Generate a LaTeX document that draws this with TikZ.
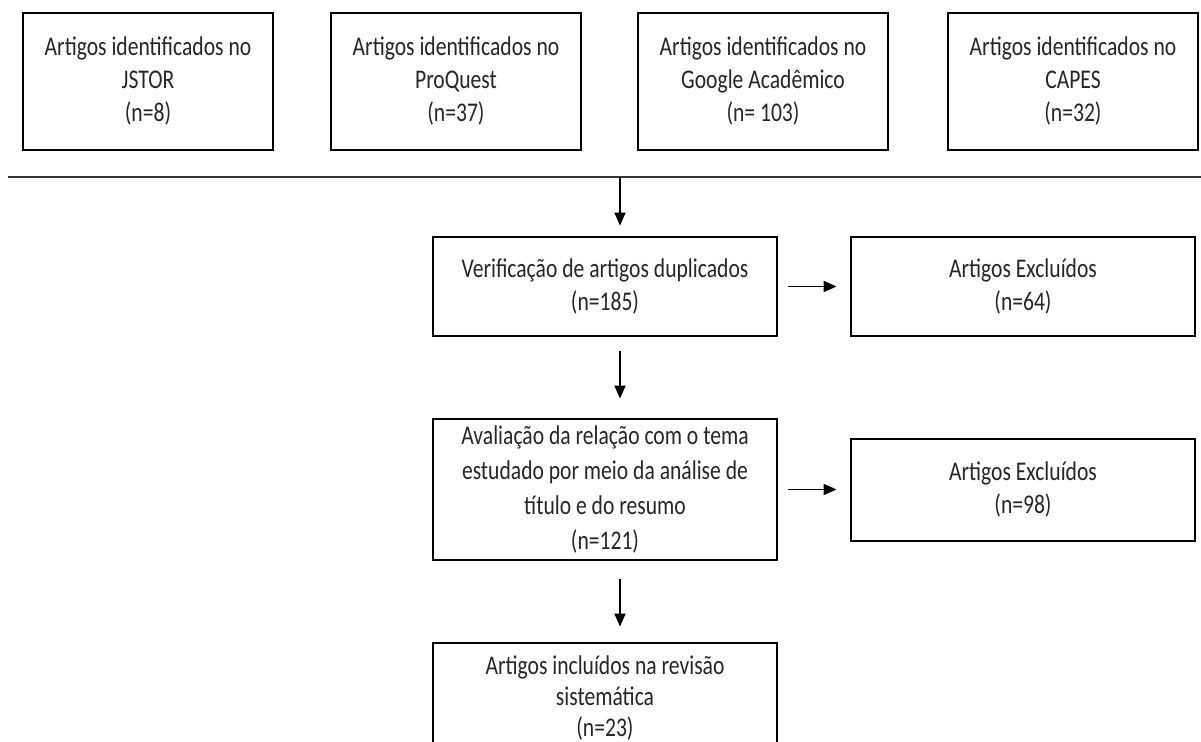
\documentclass[tikz,border=0pt]{standalone}
\usepackage{fontspec}
\setmainfont{Carlito}[FakeStretch=0.8]
\usetikzlibrary{arrows.meta}
\tikzset{
  caixa/.style={draw, line width=1.4pt, rectangle, align=center, inner sep=2pt,
    text=black!85, font=\fontsize{13.5}{16.5}\selectfont},
  base/.style={caixa, minimum width=125pt, minimum height=68.5pt},
  etapa/.style={caixa, minimum width=172pt},
  seta/.style={-{Triangle[length=6.5pt,width=5.5pt]}, line width=0.8pt},
}
\begin{document}
\begin{tikzpicture}[x=0.5pt,y=-0.5pt]
		\useasboundingbox (0,0) rectangle (1201,742);
		\clip (0,0) rectangle (1201,742);
		% Bases de dados pesquisadas
		\node[base] (jstor) at (148,81.5) {Artigos identificados no\\JSTOR\\(n=8)};
		\node[base] (proquest) at (456,81.5) {Artigos identificados no\\ProQuest\\(n=37)};
		\node[base] (google) at (763,81.5) {Artigos identificados no\\Google Acadêmico\\(n= 103)};
		\node[base] (capes) at (1073,81.5) {Artigos identificados no\\CAPES\\(n=32)};
		\draw[line width=0.9pt, black!80] (8,177) -- (1201,177);	% Linha divisória
		\coordinate (divisao) at (620,177);
		% Etapas da triagem
		\node[etapa, minimum height=49.5pt] (verif) at (605,286.5) {Verificação de artigos duplicados\\(n=185)};
		\node[etapa, minimum height=70.5pt, font=\fontsize{13.5}{17.5}\selectfont] (aval) at (605,489.5) {Avaliação da relação com o tema\\estudado por meio da análise de\\título e do resumo\\(n=121)};
		\node[etapa, minimum height=55pt, font=\fontsize{13.5}{15.5}\selectfont] (incl) at (605,698) {Artigos incluídos na revisão\\sistemática\\(n=23)};
		% Artigos excluídos
		\node[etapa, minimum height=49.5pt] (excl1) at (1023,286.5) {Artigos Excluídos\\(n=64)};
		\node[etapa, minimum height=51pt] (excl2) at (1023,490) {Artigos Excluídos\\(n=98)};
		% Setas
		\draw[seta, shorten >=5pt] (divisao) -- (divisao |- verif.north);
		\draw[seta, shorten <=7pt, shorten >=9.5pt] ([xshift=7.5pt]verif.south) -- ([xshift=7.5pt]aval.north);
		\draw[seta, shorten <=9pt, shorten >=7.5pt] ([xshift=7.5pt]aval.south) -- ([xshift=7.5pt]incl.north);
		\draw[seta, shorten <=5pt, shorten >=6.5pt] (verif.east) -- (excl1.west);
		\draw[seta, shorten <=5pt, shorten >=6.5pt] (aval.east) -- (aval.east -| excl2.west);
	\end{tikzpicture}
\end{document}
